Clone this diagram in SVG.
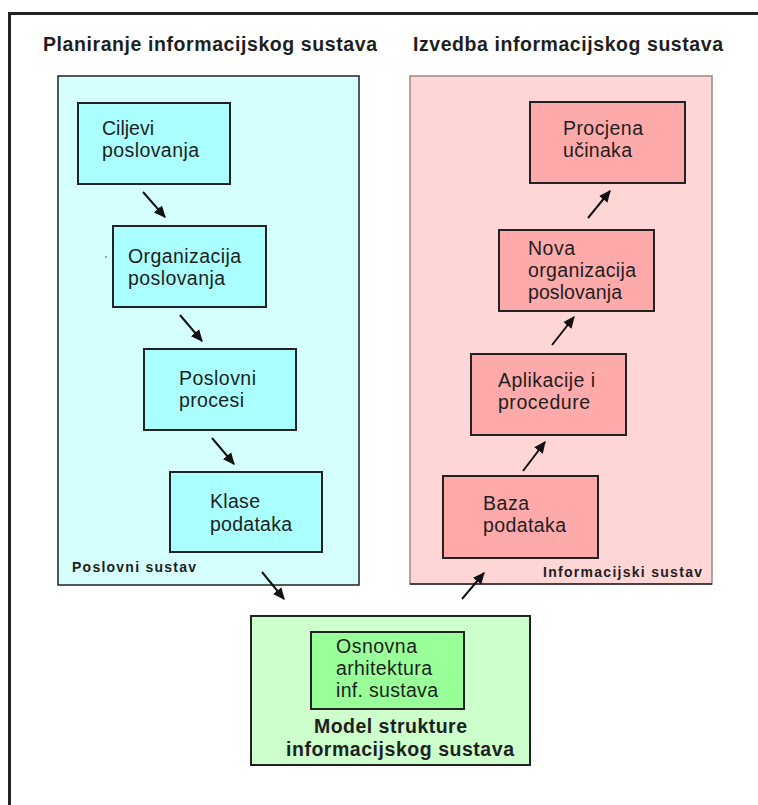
<svg xmlns="http://www.w3.org/2000/svg" width="758" height="805" viewBox="0 0 758 805">
<style>
text{font-family:"Liberation Sans",Arial,sans-serif;fill:#1e1e1e}
.t{font-size:19.5px;font-weight:bold}
.b{font-size:19.5px}
.s{font-size:14px;font-weight:bold}
.cy{fill:#aaffff;stroke:#222;stroke-width:2}
.pk{fill:#ffaaaa;stroke:#222;stroke-width:2}
.ar{stroke:#111;stroke-width:2;fill:none;marker-end:url(#ah)}
</style>
<defs>
<marker id="ah" viewBox="0 0 10 10" refX="9" refY="5" markerWidth="6" markerHeight="6" orient="auto" markerUnits="strokeWidth">
<path d="M0,0.5 L10,5 L0,9.5 Z" fill="#111"/>
</marker>
</defs>
<rect width="758" height="805" fill="#fff"/>
<g id="frame">
<line x1="8" y1="13.5" x2="758" y2="13.5" stroke="#222" stroke-width="3"/>
<line x1="9.5" y1="12" x2="9.5" y2="805" stroke="#222" stroke-width="3"/>
</g>
<g id="titles">
<text class="t" x="43" y="51" textLength="334" lengthAdjust="spacing">Planiranje informacijskog sustava</text>
<text class="t" x="413" y="51" textLength="310" lengthAdjust="spacing">Izvedba informacijskog sustava</text>
</g>
<g id="poslovni-sustav">
<rect x="58" y="76" width="301" height="509" fill="#d5ffff" stroke="#222" stroke-width="1.5"/>
<text class="s" x="72" y="572" textLength="124" lengthAdjust="spacing">Poslovni sustav</text>
<circle cx="106" cy="257" r="1" fill="#888"/>
</g>
<g id="informacijski-sustav">
<rect x="410" y="76" width="302" height="508" fill="#ffd6d6" stroke="#a08686" stroke-width="1.5"/>
<line x1="410" y1="584" x2="712" y2="584" stroke="#222" stroke-width="1.5"/>
<text class="s" x="543" y="577" textLength="159" lengthAdjust="spacing">Informacijski sustav</text>
</g>
<g id="ciljevi">
<rect class="cy" x="78" y="103" width="152" height="81"/>
<text class="b" x="102" y="135">Ciljevi</text>
<text class="b" x="102" y="157" textLength="97" lengthAdjust="spacing">poslovanja</text>
</g>
<g id="organizacija">
<rect class="cy" x="113" y="226" width="153" height="81"/>
<text class="b" x="128" y="263" textLength="113" lengthAdjust="spacing">Organizacija</text>
<text class="b" x="128" y="285" textLength="97" lengthAdjust="spacing">poslovanja</text>
</g>
<g id="procesi">
<rect class="cy" x="144" y="349" width="152" height="81"/>
<text class="b" x="179" y="385" textLength="77" lengthAdjust="spacing">Poslovni</text>
<text class="b" x="179" y="407" textLength="65" lengthAdjust="spacing">procesi</text>
</g>
<g id="klase">
<rect class="cy" x="170" y="472" width="152" height="80"/>
<text class="b" x="210" y="508" textLength="50" lengthAdjust="spacing">Klase</text>
<text class="b" x="210" y="531" textLength="82" lengthAdjust="spacing">podataka</text>
</g>
<g id="procjena">
<rect class="pk" x="530" y="102" width="155" height="81"/>
<text class="b" x="563" y="135" textLength="80" lengthAdjust="spacing">Procjena</text>
<text class="b" x="563" y="157" textLength="69" lengthAdjust="spacing">učinaka</text>
</g>
<g id="nova-organizacija">
<rect class="pk" x="499" y="230" width="155" height="81"/>
<text class="b" x="528" y="255" textLength="47" lengthAdjust="spacing">Nova</text>
<text class="b" x="528" y="277" textLength="108" lengthAdjust="spacing">organizacija</text>
<text class="b" x="528" y="299" textLength="94" lengthAdjust="spacing">poslovanja</text>
</g>
<g id="aplikacije">
<rect class="pk" x="471" y="354" width="155" height="81"/>
<text class="b" x="498" y="387" textLength="97" lengthAdjust="spacing">Aplikacije i</text>
<text class="b" x="498" y="409" textLength="92" lengthAdjust="spacing">procedure</text>
</g>
<g id="baza">
<rect class="pk" x="443" y="476" width="155" height="82"/>
<text class="b" x="483" y="510" textLength="46" lengthAdjust="spacing">Baza</text>
<text class="b" x="483" y="532" textLength="83" lengthAdjust="spacing">podataka</text>
</g>
<g id="model">
<rect x="251" y="616" width="279" height="149" fill="#ccffcc" stroke="#222" stroke-width="2"/>
<rect x="311" y="632" width="153" height="77" fill="#99ff99" stroke="#222" stroke-width="2"/>
<text class="b" x="336" y="653" textLength="81" lengthAdjust="spacing">Osnovna</text>
<text class="b" x="336" y="675" textLength="96" lengthAdjust="spacing">arhitektura</text>
<text class="b" x="336" y="697" textLength="102" lengthAdjust="spacing">inf. sustava</text>
<text class="t" x="314" y="733" textLength="153" lengthAdjust="spacing">Model strukture</text>
<text class="t" x="286" y="756" textLength="228" lengthAdjust="spacing">informacijskog sustava</text>
</g>
<g id="connectors">
<line class="ar" x1="143" y1="192" x2="165" y2="217"/>
<line class="ar" x1="180" y1="315" x2="202" y2="341"/>
<line class="ar" x1="212" y1="438" x2="234" y2="464"/>
<line class="ar" x1="262" y1="572" x2="284" y2="599"/>
<line class="ar" x1="462" y1="599" x2="484" y2="573"/>
<line class="ar" x1="523" y1="471" x2="545" y2="442"/>
<line class="ar" x1="552" y1="345" x2="574" y2="317"/>
<line class="ar" x1="588" y1="218" x2="610" y2="191"/>
</g>
</svg>
